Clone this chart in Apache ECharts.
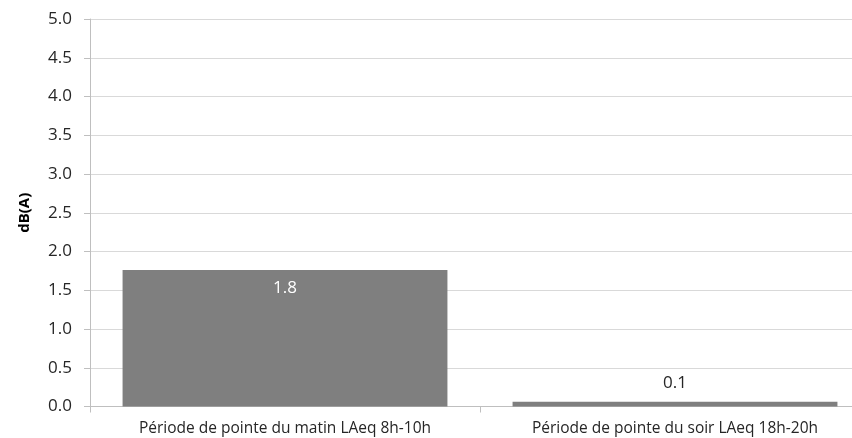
<!DOCTYPE html>
<html>
<head>
<meta charset="utf-8">
<script src="https://cdn.jsdelivr.net/npm/echarts@6/dist/echarts.min.js"></script>
<style>
  html, body { margin: 0; padding: 0; background: #ffffff; overflow: hidden; }
  #chart { width: 870px; height: 438px; }
</style>
</head>
<body>
<div id="chart"></div>
<script>
// Noise level increase by peak period, dB(A)
const categories = [
  'Période de pointe du matin LAeq 8h-10h',
  'Période de pointe du soir LAeq 18h-20h'
];
const values = [1.76, 0.06];
const yTicks = { min: 0, max: 5, step: 0.5 };
const yTitle = 'dB(A)';

const FONT = '"Open Sans", "Liberation Sans", sans-serif';

const chart = echarts.init(document.getElementById('chart'), null, { renderer: 'canvas' });

chart.setOption({
  animation: false,
  backgroundColor: '#ffffff',
  grid: { left: 90, right: 0, top: 19, bottom: 31.5, containLabel: false },
  xAxis: {
    type: 'category',
    data: categories,
    axisLine: { lineStyle: { color: '#bfbfbf', width: 1 } },
    axisTick: { show: true, length: 6, lineStyle: { color: '#bfbfbf' } },
    axisLabel: { color: '#262626', fontFamily: FONT, fontSize: 15.5, margin: 14 },
    splitLine: { show: false }
  },
  yAxis: {
    type: 'value',
    min: yTicks.min,
    max: yTicks.max,
    interval: yTicks.step,
    name: yTitle,
    nameLocation: 'middle',
    nameGap: 58,
    nameTextStyle: { color: '#000000', fontFamily: FONT, fontSize: 15, fontWeight: 'bold' },
    axisLine: { show: true, lineStyle: { color: '#bfbfbf', width: 1 } },
    axisTick: { show: true, length: 6, lineStyle: { color: '#bfbfbf' } },
    axisLabel: {
      color: '#262626', fontFamily: FONT, fontSize: 17, margin: 18,
      formatter: v => v.toFixed(1)
    },
    splitLine: { show: true, lineStyle: { color: '#d9d9d9', width: 1 } }
  },
  series: [{
    type: 'bar',
    data: values.map((v, i) => ({
      value: v,
      label: i === 0
        ? { position: 'insideTop', distance: 10, color: '#ffffff' }
        : { position: 'top', distance: 10, color: '#262626' }
    })),
    barWidth: '83.3%',
    itemStyle: { color: '#7f7f7f' },
    label: {
      show: true,
      fontFamily: FONT,
      fontSize: 17,
      formatter: p => p.value.toFixed(1)
    }
  }]
});
</script>
</body>
</html>
